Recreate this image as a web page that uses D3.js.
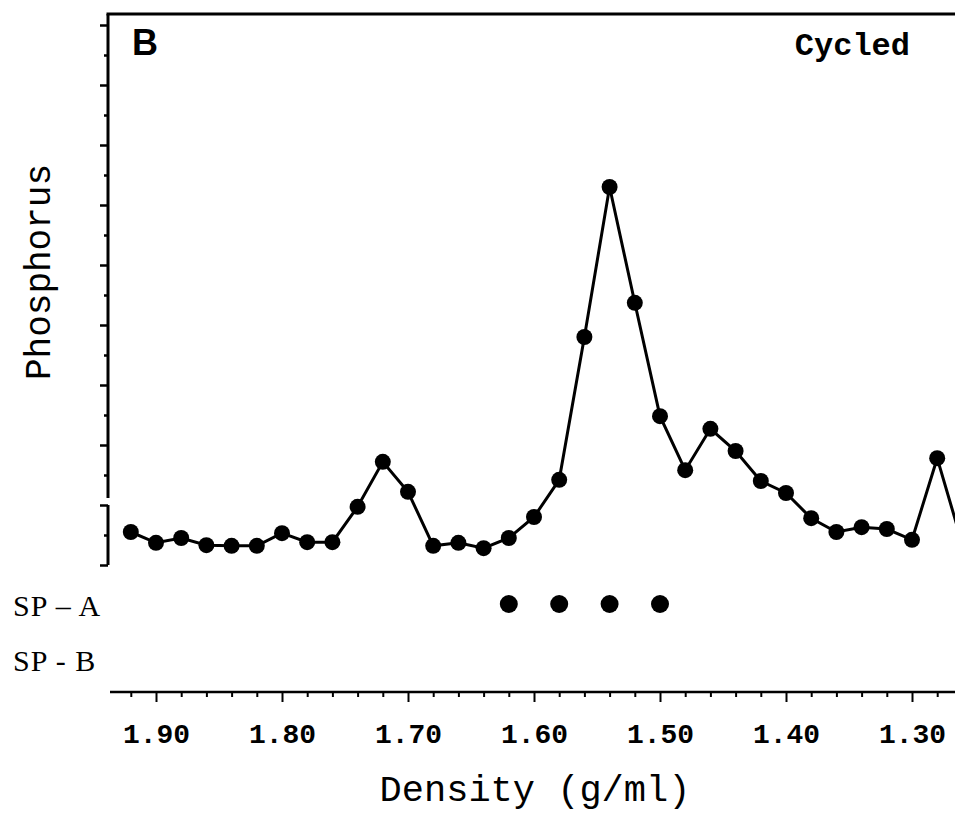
<!DOCTYPE html>
<html>
<head>
<meta charset="utf-8">
<script src="https://cdn.jsdelivr.net/npm/d3@7"></script>
<style>
  body { margin: 0; background: #fff; }
  svg { display: block; }
</style>
</head>
<body>
<div id="chart"></div>
<script>
// fractions of the gradient
const densities = [1.92, 1.90, 1.88, 1.86, 1.84, 1.82, 1.80, 1.78, 1.76, 1.74, 1.72, 1.70,
    1.68, 1.66, 1.64, 1.62, 1.60, 1.58, 1.56, 1.54, 1.52, 1.50, 1.48, 1.46, 1.44, 1.42,
    1.40, 1.38, 1.36, 1.34, 1.32, 1.30, 1.28, 1.26]
const phosphorus = [0.55, 0.37, 0.45, 0.33, 0.32, 0.32, 0.53, 0.38, 0.38, 0.97, 1.72, 1.22,
    0.32, 0.37, 0.28, 0.45, 0.80, 1.42, 3.80, 6.30, 4.37, 2.48, 1.58, 2.27, 1.90, 1.40,
    1.20, 0.78, 0.55, 0.63, 0.60, 0.42, 1.78, 0.35]

// fractions containing the marker proteins
const rowLabels = ["SP \u2013 A", "SP - B"]
const spA = [1.62, 1.58, 1.54, 1.50]
const spB = []

const majorX = [1.90, 1.80, 1.70, 1.60, 1.50, 1.40, 1.30]
const minorX = [1.92, 1.88, 1.86, 1.84, 1.82, 1.78, 1.76, 1.74, 1.72, 1.68, 1.66, 1.64, 1.62,
    1.58, 1.56, 1.54, 1.52, 1.48, 1.46, 1.44, 1.42, 1.38, 1.36, 1.34, 1.32, 1.28]
const majorY = [0, 1, 2, 3, 4, 5, 6, 7, 8, 9]
const minorY = [0.5, 1.5, 2.5, 3.5, 4.5, 5.5, 6.5, 7.5, 8.5]

const W = 955, H = 814
const svg = d3.select("#chart").append("svg")
    .attr("width", W).attr("height", H)

const x = d3.scaleLinear().domain([1.90, 1.30]).range([156, 912])
const y = d3.scaleLinear().domain([0, 9]).range([565, 25])

const axisX0 = 108, frameTop = 14, breakTop = 498, breakBottom = y(1)

// frame: top line + left axis with a break near the bottom
svg.append("line")
    .attr("x1", axisX0 - 1.5).attr("x2", W)
    .attr("y1", frameTop).attr("y2", frameTop)
    .attr("stroke", "#000").attr("stroke-width", 3)
svg.append("line")
    .attr("x1", axisX0).attr("x2", axisX0)
    .attr("y1", frameTop).attr("y2", breakTop)
    .attr("stroke", "#000").attr("stroke-width", 3)
svg.append("line")
    .attr("x1", axisX0).attr("x2", axisX0)
    .attr("y1", breakBottom).attr("y2", y(0))
    .attr("stroke", "#000").attr("stroke-width", 3)

// y ticks, no labels
svg.append("g")
    .attr("transform", `translate(${axisX0},0)`)
    .call(d3.axisLeft(y).tickValues(majorY).tickSize(8).tickFormat(""))
    .call(g => g.select(".domain").remove())
    .call(g => g.selectAll("line").attr("stroke-width", 2.5))
svg.append("g")
    .attr("transform", `translate(${axisX0},0)`)
    .call(d3.axisLeft(y).tickValues(minorY).tickSize(4).tickFormat(""))
    .call(g => g.select(".domain").remove())
    .call(g => g.selectAll("line").attr("stroke-width", 2.5))

// x axis
const axisY = 692
svg.append("line")
    .attr("x1", 110).attr("x2", W)
    .attr("y1", axisY).attr("y2", axisY)
    .attr("stroke", "#000").attr("stroke-width", 2.5)
svg.append("g")
    .attr("transform", `translate(0,${axisY})`)
    .call(d3.axisBottom(x).tickValues(minorX).tickSize(5).tickFormat(""))
    .call(g => g.select(".domain").remove())
    .call(g => g.selectAll("line").attr("stroke-width", 2))
svg.append("g")
    .attr("transform", `translate(0,${axisY})`)
    .call(d3.axisBottom(x).tickValues(majorX).tickSize(10).tickPadding(41).tickFormat(d3.format(".2f")))
    .call(g => g.select(".domain").remove())
    .call(g => g.selectAll("line").attr("stroke-width", 2))
    .call(g => g.selectAll("text")
        .attr("fill", "#000")
        .attr("dy", 0)
        .style("font-family", "'Liberation Mono', monospace")
        .style("font-weight", "bold")
        .style("font-size", "28px"))

// the profile (last fraction runs off the right edge)
const points = densities.map((d, i) => ({d: d, p: phosphorus[i]}))
const line = d3.line().x(e => x(e.d)).y(e => y(e.p))
svg.append("path")
    .datum(points)
    .attr("d", line)
    .attr("fill", "none")
    .attr("stroke", "#000")
    .attr("stroke-width", 3)
svg.selectAll("circle.pt")
    .data(points.filter(e => x(e.d) < W))
    .join("circle")
    .attr("class", "pt")
    .attr("cx", e => x(e.d))
    .attr("cy", e => y(e.p))
    .attr("r", 8)
    .attr("fill", "#000")

// marker rows
const rowY = [604, 659]
svg.selectAll("text.row")
    .data(rowLabels)
    .join("text")
    .attr("class", "row")
    .attr("x", 13)
    .attr("y", (d, i) => rowY[i] + 12)
    .attr("fill", "#000")
    .style("font-family", "'Liberation Serif', serif")
    .style("font-size", "30px")
    .style("letter-spacing", "1px")
    .text(d => d)
svg.selectAll("circle.spa")
    .data(spA)
    .join("circle")
    .attr("class", "spa")
    .attr("cx", d => x(d))
    .attr("cy", rowY[0])
    .attr("r", 9)
    .attr("fill", "#000")
svg.selectAll("circle.spb")
    .data(spB)
    .join("circle")
    .attr("class", "spb")
    .attr("cx", d => x(d))
    .attr("cy", rowY[1])
    .attr("r", 9)
    .attr("fill", "#000")

// titles
svg.append("text")
    .attr("x", (x(1.90) + x(1.30)) / 2 + 1)
    .attr("y", 801)
    .attr("text-anchor", "middle")
    .style("font-family", "'Liberation Mono', monospace")
    .style("font-size", "37px")
    .text("Density (g/ml)")
svg.append("text")
    .attr("transform", "translate(50,272) rotate(-90)")
    .attr("text-anchor", "middle")
    .style("font-family", "'Liberation Mono', monospace")
    .style("font-size", "36px")
    .text("Phosphorus")
svg.append("text")
    .attr("x", 132).attr("y", 55)
    .style("font-family", "'Liberation Sans', sans-serif")
    .style("font-weight", "bold")
    .style("font-size", "36px")
    .text("B")
svg.append("text")
    .attr("x", 910).attr("y", 55)
    .attr("text-anchor", "end")
    .style("font-family", "'Liberation Mono', monospace")
    .style("font-weight", "bold")
    .style("font-size", "32px")
    .text("Cycled")
</script>
</body>
</html>
